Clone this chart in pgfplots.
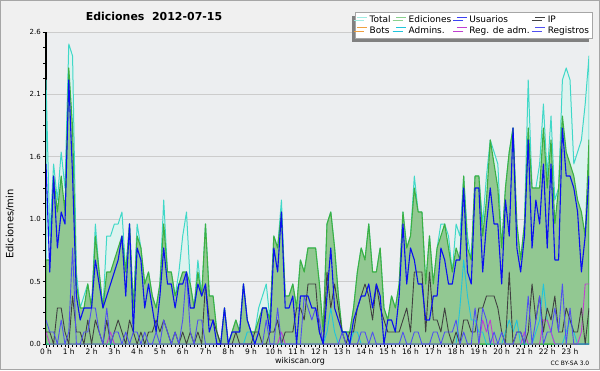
\documentclass[border=0pt]{standalone}
\usepackage{pgfplots}
\pgfplotsset{compat=1.18}
\usepackage{pgfplotstable}
\usepackage{fontspec}
\setmainfont{DejaVu Sans}
\usetikzlibrary{shadows}

\definecolor{outerbg}{HTML}{F0F0F0}
\definecolor{plotbg}{HTML}{ECEEF0}
\definecolor{totline}{HTML}{40D8C8}
\definecolor{totfill}{HTML}{DDF3EF}
\definecolor{edline}{HTML}{3CB043}
\definecolor{edfill}{HTML}{92C892}
\definecolor{usline}{HTML}{0A10F0}
\definecolor{ipline}{HTML}{404040}
\definecolor{botline}{HTML}{F0A040}
\definecolor{admline}{HTML}{20C4DC}
\definecolor{regadm}{HTML}{C040D0}
\definecolor{regline}{HTML}{5050F0}

\pgfplotstableread{
i T E U P A R G
0 2.2 0.7 1.5 0.1 0 0.1 0.2
1 0.9 0.7 0.6 0.1 0 0 0.1
2 1.5 1.4 1.4 0.0 0 0 0.1
3 1.2 1.1 0.8 0.3 0 0 0.0
4 1.6 1.4 1.1 0.3 0 0 0.2
5 1.3 1.1 1.0 0.1 0 0 0.0
6 2.5 2.3 2.2 0.0 0 0 0.1
7 2.4 1.8 1.4 0.4 0 0 0.8
8 0.6 0.5 0.4 0.1 0 0 0.0
9 0.3 0.3 0.2 0.1 0 0 0.0
10 0.4 0.3 0.3 0.0 0 0 0.1
11 0.5 0.5 0.3 0.2 0 0 0.1
12 0.3 0.3 0.3 0.0 0 0 0.3
13 1.0 0.9 0.7 0.2 0 0 0.3
14 0.6 0.6 0.5 0.1 0 0 0.1
15 0.3 0.3 0.3 0.0 0 0 0.0
16 0.9 0.6 0.4 0.2 0 0 0.3
17 0.9 0.6 0.5 0.0 0 0.1 0.0
18 1.0 0.7 0.6 0.1 0 0 0.1
19 1.0 0.8 0.7 0.2 0 0 0.1
20 1.1 0.9 0.9 0.1 0 0 0.0
21 0.6 0.6 0.4 0.0 0 0 0.1
22 1.0 1.0 1.0 0.2 0 0 0.0
23 0.3 0.3 0.1 0.1 0 0 0.1
24 1.0 0.9 0.8 0.0 0 0 0.1
25 0.8 0.8 0.7 0.1 0 0 0.0
26 0.5 0.5 0.3 0.0 0 0 0.1
27 0.6 0.6 0.5 0.1 0 0 0.0
28 0.4 0.4 0.3 0.1 0 0 0.0
29 0.3 0.3 0.1 0.2 0 0 0.1
30 0.5 0.5 0.4 0.1 0 0 0.0
31 1.2 1.0 0.8 0.2 0 0 0.2
32 0.6 0.6 0.5 0.1 0 0 0.1
33 0.6 0.6 0.5 0.0 0 0 0.0
34 0.4 0.4 0.3 0.1 0 0 0.1
35 0.6 0.5 0.5 0.0 0 0 0.0
36 0.9 0.6 0.5 0.1 0 0 0.2
37 1.1 0.6 0.6 0.0 0 0 0.6
38 0.5 0.5 0.3 0.1 0 0 0.1
39 0.3 0.3 0.3 0.0 0 0 0.0
40 0.7 0.6 0.5 0.1 0 0 0.2
41 0.4 0.4 0.4 0.0 0 0 0.2
42 1.0 1.0 0.5 0.5 0 0 0.0
43 0.4 0.4 0.1 0.2 0 0 0.0
44 0.4 0.4 0.2 0.2 0 0 0.0
45 0.1 0.1 0.0 0.1 0 0 0.0
46 0.0 0.0 0.0 0.0 0 0 0.0
47 0.3 0.3 0.3 0.0 0 0 0.0
48 0.0 0.0 0.0 0.0 0 0 0.0
49 0.1 0.1 0.1 0.0 0 0 0.0
50 0.2 0.2 0.1 0.1 0 0 0.0
51 0.1 0.1 0.1 0.0 0 0 0.0
52 0.5 0.5 0.5 0.0 0 0 0.0
53 0.2 0.2 0.2 0.0 0.1 0 0.0
54 0.1 0.1 0.1 0.0 0.1 0 0.0
55 0.1 0.1 0.0 0.1 0 0 0.0
56 0.3 0.2 0.1 0.1 0 0 0.0
57 0.4 0.3 0.3 0.0 0 0 0.0
58 0.5 0.3 0.3 0.0 0 0 0.2
59 0.2 0.2 0.1 0.1 0 0 0.0
60 0.9 0.9 0.8 0.1 0 0 0.0
61 0.8 0.8 0.6 0.2 0 0 0.3
62 1.2 1.1 1.1 0.0 0 0.1 0.0
63 0.4 0.4 0.3 0.1 0 0 0.0
64 0.4 0.4 0.3 0.1 0 0 0.0
65 0.5 0.5 0.4 0.1 0 0 0.0
66 0.3 0.3 0.0 0.3 0 0 0.0
67 0.7 0.7 0.4 0.3 0 0 0.0
68 0.6 0.6 0.4 0.2 0 0 0.4
69 0.8 0.8 0.4 0.5 0 0 0.3
70 0.8 0.8 0.3 0.5 0 0 0.2
71 0.8 0.8 0.3 0.5 0 0 0.3
72 0.5 0.5 0.1 0.1 0 0 0.2
73 0.1 0.1 0.0 0.0 0 0 0.0
74 1.0 1.0 0.4 0.6 0.1 0 0.0
75 1.1 1.1 0.8 0.3 0.3 0 0.0
76 0.8 0.8 0.3 0.5 0.1 0 0.0
77 0.4 0.4 0.2 0.3 0 0 0.0
78 0.1 0.1 0.1 0.1 0 0 0.1
79 0.1 0.1 0.1 0.0 0 0 0.0
80 0.1 0.1 0.0 0.1 0 0 0.0
81 0.3 0.3 0.2 0.1 0.1 0 0.0
82 0.6 0.6 0.3 0.3 0.1 0 0.0
83 0.8 0.8 0.4 0.4 0 0 0.1
84 0.7 0.7 0.4 0.5 0 0 0.1
85 1.0 1.0 0.5 0.4 0 0 0.0
86 0.6 0.6 0.3 0.2 0 0 0.1
87 0.6 0.6 0.5 0.5 0 0 0.0
88 0.8 0.8 0.4 0.3 0 0 0.0
89 0.3 0.3 0.0 0.2 0 0 0.0
90 0.2 0.2 0.2 0.1 0 0 0.0
91 0.4 0.4 0.2 0.1 0 0 0.0
92 0.3 0.3 0.1 0.1 0 0 0.0
93 0.5 0.5 0.4 0.1 0 0 0.0
94 1.1 1.1 1.0 0.2 0 0 0.1
95 0.8 0.8 0.5 0.3 0 0 0.0
96 0.9 0.9 0.8 0.1 0 0 0.0
97 1.4 1.3 0.7 0.6 0 0 0.1
98 1.1 1.1 0.5 0.6 0 0 0.1
99 1.1 1.1 0.5 0.6 0 0 0.0
100 0.5 0.5 0.2 0.1 0 0 0.0
101 0.9 0.9 0.2 0.6 0 0 0.0
102 0.5 0.5 0.4 0.2 0 0 0.1
103 0.8 0.8 0.4 0.2 0 0 0.1
104 1.0 0.9 0.8 0.1 0 0 0.0
105 1.0 1.0 0.7 0.3 0 0 0.1
106 0.9 0.8 0.5 0.1 0 0 0.1
107 0.6 0.6 0.5 0.0 0 0 0.1
108 1.0 0.8 0.7 0.1 0 0 0.2
109 0.9 0.7 0.7 0.0 0.3 0 0.0
110 1.4 1.4 1.3 0.2 0.7 0 0.1
111 0.9 0.8 0.6 0.2 0.4 0 0.0
112 0.7 0.7 0.5 0.1 0.2 0 0.0
113 1.4 1.4 1.3 0.1 0.2 0 0.3
114 1.4 1.4 1.3 0.3 0.1 0 0.0
115 1.0 0.9 0.6 0.3 0.1 0.2 0.3
116 1.4 1.2 1.0 0.4 0.0 0.1 0.2
117 1.7 1.7 1.3 0.4 0.0 0.2 0.0
118 1.6 1.5 1.0 0.4 0 0 0.1
119 1.5 1.3 1.0 0.3 0 0 0.0
120 0.8 0.8 0.5 0.1 0 0 0.1
121 1.3 1.3 1.2 0.0 0.1 0 0.0
122 1.6 1.6 0.9 0.6 0.2 0 0.0
123 1.8 1.8 1.8 0.0 0.1 0 0.0
124 1.0 1.0 0.8 0.1 0.2 0 0.1
125 0.7 0.7 0.6 0.1 0 0 0.1
126 1.0 1.0 0.9 0.0 0 0.1 0.0
127 2.2 1.8 1.7 0.1 0 0 0.4
128 1.3 1.3 0.8 0.5 0 0 0.0
129 1.3 1.3 1.2 0.2 0.1 0 0.2
130 1.5 1.3 1.0 0.4 0.2 0 0.4
131 2.0 1.8 1.5 0.1 0.5 0.2 0.0
132 1.4 1.3 0.8 0.3 0.2 0.2 0.1
133 1.9 1.7 1.5 0.2 0.1 0.1 0.1
134 1.2 1.0 0.7 0.4 0 0 0.3
135 1.3 1.3 0.7 0.1 0 0 0.1
136 2.2 1.9 1.8 0.1 0 0 0.5
137 2.3 1.6 1.4 0.3 0.1 0 0.0
138 2.2 1.5 1.4 0.2 0.2 0 0.3
139 1.5 1.4 1.3 0.1 0.1 0 0.0
140 1.6 1.2 1.1 0.1 0 0 0.0
141 1.7 1.1 0.6 0.3 0 0.1 0.0
142 2.0 0.9 0.9 0.0 0 0.5 0.0
143 2.4 1.7 1.4 0.3 0 0.5 0.0
}\data

\begin{document}
\begin{tikzpicture}[x=1bp,y=1bp]
\fill[outerbg] (0,0) rectangle (600,370);
\draw[gray!70, line width=1bp] (0.5,0.5) rectangle (599.5,369.5);
\begin{axis}[
  at={(46bp,26bp)}, anchor=south west,
  width=543bp, height=312bp, scale only axis,
  xmin=0, xmax=23.8333, ymin=0, ymax=2.6,
  axis background/.style={fill=plotbg},
  axis x line*=bottom, axis y line*=left,
  axis line style={black, line width=1.5bp, -},
  xtick={0,...,23},
  xticklabels={0 h,1 h,2 h,3 h,4 h,5 h,6 h,7 h,8 h,9 h,10 h,11 h,12 h,13 h,14 h,15 h,16 h,17 h,18 h,19 h,20 h,21 h,22 h,23 h},
  minor x tick num=5,
  ytick={0,0.52,1.04,1.56,2.08,2.6},
  yticklabels={0.0,0.5,1.0,1.6,2.1,2.6},
  minor y tick num=3,
  tick align=outside,
  major tick length=3.5bp, minor tick length=3bp,
  tick style={black, line width=0.8bp},
  ymajorgrids, grid style={black!20, line width=0.8bp},
  xticklabel style={font=\fontsize{7.5}{8}\selectfont, inner sep=1bp},
  yticklabel style={font=\fontsize{7}{8}\selectfont, inner sep=1.5bp},
  legend columns=4,
  legend cell align=left,
  legend style={at={(1.007,1.064)}, anchor=north east,
    font=\fontsize{9}{9}\selectfont, draw=black!35, fill=white,
    drop shadow={shadow xshift=-3.5bp, shadow yshift=-3.5bp, fill=black!50, opacity=1},
    inner sep=1.5bp, row sep=-1.5bp,
    /tikz/every even column/.append style={column sep=3bp}},
  legend image code/.code={\draw[#1] (0bp,2.8bp) -- (10bp,2.8bp);},
  every axis plot/.append style={line join=round},
]
\addplot[totline, line width=1bp, fill=totfill, forget plot] table[x expr=\thisrow{i}/6, y=T] {\data} \closedcycle;
\addplot[edline, line width=1.1bp, fill=edfill, forget plot] table[x expr=\thisrow{i}/6, y=E] {\data} \closedcycle;
\addplot[admline, line width=0.9bp, forget plot] table[x expr=\thisrow{i}/6, y=A] {\data};
\addplot[regadm, line width=0.9bp, forget plot] table[x expr=\thisrow{i}/6, y=R] {\data};
\addplot[ipline, line width=0.9bp, forget plot] table[x expr=\thisrow{i}/6, y=P] {\data};
\addplot[regline, line width=0.9bp, forget plot] table[x expr=\thisrow{i}/6, y=G] {\data};
\addplot[usline, line width=1.1bp, forget plot] table[x expr=\thisrow{i}/6, y=U] {\data};

\addlegendimage{totline!50, line width=1bp}\addlegendentry{Total}
\addlegendimage{edline!60, line width=1bp}\addlegendentry{Ediciones}
\addlegendimage{usline!80, line width=1bp}\addlegendentry{Usuarios}
\addlegendimage{ipline, line width=1bp}\addlegendentry{IP}
\addlegendimage{botline, line width=1bp}\addlegendentry{Bots}
\addlegendimage{admline, line width=1bp}\addlegendentry{Admins.}
\addlegendimage{regadm, line width=1bp}\addlegendentry{Reg. de adm.}
\addlegendimage{regline, line width=1bp}\addlegendentry{Registros}
\end{axis}
\node[font=\bfseries\fontsize{11}{12}\selectfont] at (154,354) {Ediciones\ \ 2012-07-15};
\node[rotate=90, font=\fontsize{10}{11}\selectfont] at (10,146) {Ediciones/min};
\node[font=\fontsize{8}{9}\selectfont] at (300,9) {wikiscan.org};
\node[font=\fontsize{6}{7}\selectfont] at (570,7) {CC BY-SA 3.0};
\end{tikzpicture}
\end{document}
